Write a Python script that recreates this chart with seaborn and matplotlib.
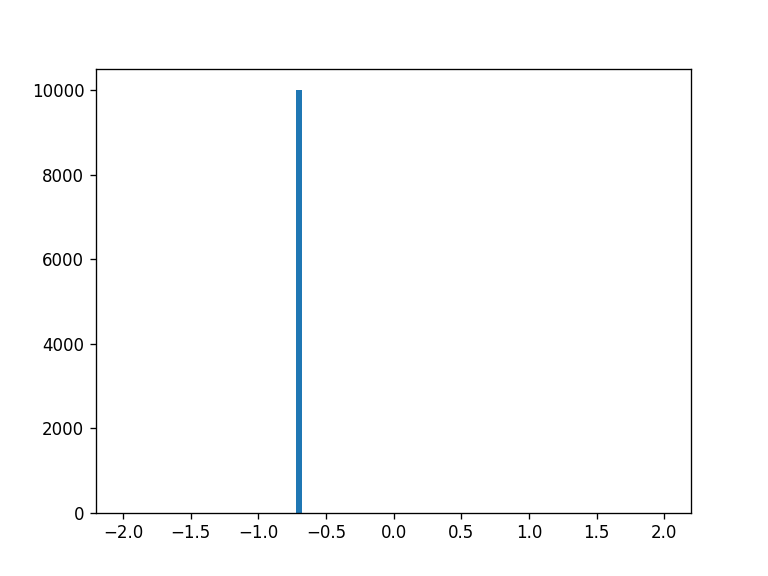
import matplotlib
matplotlib.use("Agg")
import matplotlib.pyplot as plt
import seaborn as sns
import numpy as np

values = [-0.7]
counts = [10000]
bin_range = (-2, 2)
n_bins = 100

fig, ax = plt.subplots(figsize=(6.4, 4.8), dpi=120)
sns.histplot(x=values, weights=counts, bins=n_bins, binrange=bin_range,
             color="#1f77b4", alpha=1, linewidth=0, ax=ax)
ax.set_xlim(-2.2, 2.2)
ax.set_ylim(0, 10500)
ax.set_xlabel("")
ax.set_ylabel("")
ax.set_xticks(np.arange(-2.0, 2.01, 0.5))
fig.savefig("out.png", dpi=120)
